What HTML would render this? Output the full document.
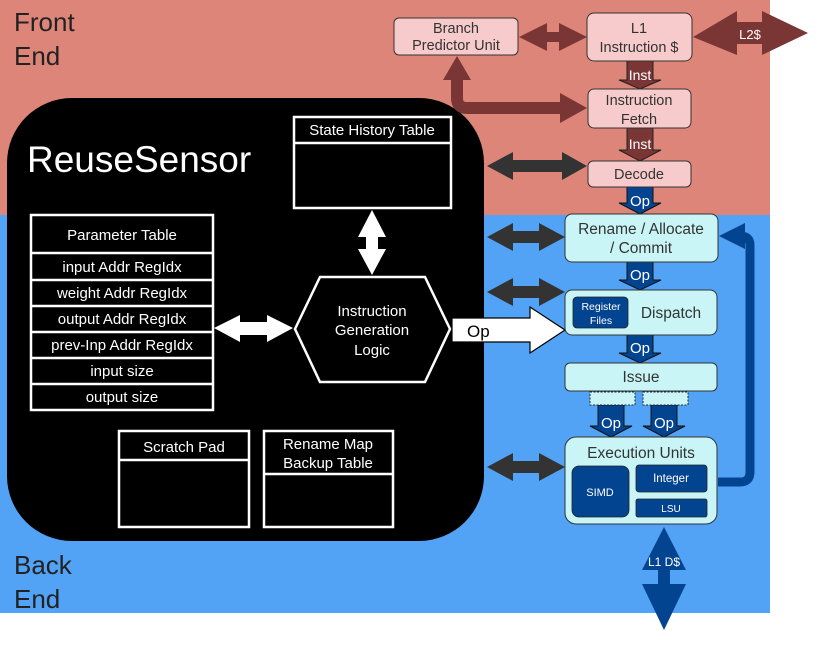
<!DOCTYPE html>
<html><head><meta charset="utf-8"><style>
html,body{margin:0;padding:0;background:#fff;}
svg{display:block;font-family:"Liberation Sans",sans-serif;}
</style></head><body>
<svg width="830" height="655" viewBox="0 0 830 655" xmlns="http://www.w3.org/2000/svg">
<rect x="0" y="0" width="770" height="215" fill="#de857a"/>
<rect x="0" y="215" width="770" height="398" fill="#52a3f5"/>
<text x="14" y="31" font-size="26" fill="#222">Front</text>
<text x="14" y="65" font-size="26" fill="#222">End</text>
<text x="14" y="574" font-size="26" fill="#222">Back</text>
<text x="14" y="608" font-size="26" fill="#222">End</text>

<rect x="7" y="98" width="477" height="443" rx="65" fill="#000"/>
<text x="27" y="172" font-size="37" fill="#fff">ReuseSensor</text>

<g fill="none" stroke="#fff" stroke-width="2.5">
<rect x="294" y="117" width="157" height="91"/><line x1="294" y1="143" x2="451" y2="143"/>
<rect x="31" y="215" width="182" height="195"/>
<line x1="31" y1="253" x2="213" y2="253"/><line x1="31" y1="280" x2="213" y2="280"/>
<line x1="31" y1="306" x2="213" y2="306"/><line x1="31" y1="332" x2="213" y2="332"/>
<line x1="31" y1="358" x2="213" y2="358"/><line x1="31" y1="384" x2="213" y2="384"/>
<polygon points="295,329 320,277 425,277 450,329 425,382 320,382"/>
<rect x="119" y="431" width="130" height="96"/><line x1="119" y1="460" x2="249" y2="460"/>
<rect x="264" y="431" width="129" height="96"/><line x1="264" y1="474" x2="393" y2="474"/>
</g>
<g fill="#fff" font-size="15" text-anchor="middle">
<text x="372" y="135">State History Table</text>
<text x="122" y="240">Parameter Table</text>
<text x="122" y="272">input Addr RegIdx</text>
<text x="122" y="298">weight Addr RegIdx</text>
<text x="122" y="324">output Addr RegIdx</text>
<text x="122" y="350">prev-Inp Addr RegIdx</text>
<text x="122" y="376">input size</text>
<text x="122" y="402">output size</text>
<text x="372" y="316">Instruction</text>
<text x="372" y="335">Generation</text>
<text x="372" y="355">Logic</text>
<text x="184" y="452">Scratch Pad</text>
<text x="328" y="449">Rename Map</text>
<text x="328" y="468">Backup Table</text>
</g>
<polygon fill="#fff" points="372,210 386,237 378,237 378,249 386,249 372,275 358,249 366,249 366,237 358,237"/>
<polygon fill="#fff" points="214,328 240,315 240,322 267,322 267,315 293,328 267,342 267,335 240,335 240,342"/>
<polygon fill="#fff" stroke="#000" stroke-width="1.2" points="452,318 530,318 530,307 565,330 530,353 530,342 452,342"/>
<text x="467" y="337" font-size="17" fill="#000">Op</text>

<g fill="#333">
<polygon points="487,166 513,152 513,160 562,160 562,152 587,166 562,180 562,172 513,172 513,180"/>
<polygon points="487,237 513,223 513,231 539,231 539,223 565,237 539,251 539,243 513,243 513,251"/>
<polygon points="487,292 513,278 513,286 539,286 539,278 565,292 539,306 539,298 513,298 513,306"/>
<polygon points="487,467 513,453 513,461 539,461 539,453 565,467 539,481 539,473 513,473 513,481"/>
</g>

<g fill="#7a3535">
<polygon points="519,37 547,23 547,32 559,32 559,23 587,37 559,51 559,42 547,42 547,51"/>
<polygon points="693,37 737,11 737,22 762,22 762,11 808,33 762,55 762,44 737,44 737,55"/>
<polygon points="443,80 457,56 471,80"/>
<path d="M457,78 V98 Q457,108 467,108 H562" stroke="#7a3535" stroke-width="12" fill="none"/>
<polygon points="560,93 587,108 560,123"/>
<polygon stroke="#222" stroke-width="1" points="627,61 653,61 653,80 661,80 640,89 619,80 627,80"/>
<polygon stroke="#222" stroke-width="1" points="627,128 653,128 653,150 661,150 640,161 619,150 627,150"/>
</g>
<text x="750" y="39" font-size="13" fill="#fff" text-anchor="middle">L2$</text>
<g fill="#fff" font-size="14" text-anchor="middle">
<text x="640" y="80">Inst</text><text x="640" y="149">Inst</text>
</g>

<g fill="#034491" stroke="#111" stroke-width="1">
<polygon points="627,187 653,187 653,203 661,203 640,214 619,203 627,203"/>
<polygon points="627,262 653,262 653,280 661,280 640,290 619,280 627,280"/>
<polygon points="627,335 653,335 653,353 661,353 640,363 619,353 627,353"/>
<polygon points="598,405 624,405 624,426 632,426 611,437 590,426 598,426"/>
<polygon points="651,405 677,405 677,426 685,426 664,437 643,426 651,426"/>
</g>
<g fill="#fff" font-size="15" text-anchor="middle">
<text x="640" y="206">Op</text><text x="640" y="280">Op</text><text x="640" y="353">Op</text>
<text x="611" y="428">Op</text><text x="664" y="428">Op</text>
</g>
<path d="M718,482 H740 Q750,482 750,472 V245 Q750,236 740,236 H745" stroke="#034491" stroke-width="9" fill="none"/>
<polygon fill="#034491" points="719,236 745,223 745,249"/>
<polygon fill="#034491" points="664,527 686,570 670,570 670,584 686,584 664,630 642,584 658,584 658,570 642,570"/>
<text x="664" y="566" font-size="12" fill="#fff" text-anchor="middle">L1 D$</text>

<g fill="#f7cbcb" stroke="#333" stroke-width="1">
<rect x="394" y="18" width="124" height="37" rx="5"/>
<rect x="587" y="13" width="105" height="48" rx="7"/>
<rect x="588" y="89" width="103" height="39" rx="6"/>
<rect x="588" y="161" width="103" height="26" rx="5"/>
</g>
<g fill="#333" font-size="14.5" text-anchor="middle">
<text x="456" y="33">Branch</text><text x="456" y="50">Predictor Unit</text>
<text x="639" y="33">L1</text><text x="639" y="52">Instruction $</text>
<text x="639" y="105">Instruction</text><text x="639" y="124">Fetch</text>
<text x="639" y="179">Decode</text>
</g>

<g fill="#c9f5f7" stroke="#333" stroke-width="1">
<rect x="565" y="214" width="153" height="48" rx="7"/>
<rect x="565" y="290" width="152" height="45" rx="7"/>
<rect x="565" y="363" width="152" height="28" rx="5"/>
<rect x="565" y="437" width="152" height="87" rx="11"/>
<rect x="590" y="392" width="45" height="13" stroke-dasharray="2,1.5" stroke="#222"/>
<rect x="643" y="392" width="45" height="13" stroke-dasharray="2,1.5" stroke="#222"/>
</g>
<g fill="#034491" stroke="#222" stroke-width="0.8">
<rect x="573" y="297" width="55" height="31" rx="4"/>
<rect x="572" y="466" width="57" height="51" rx="7"/>
<rect x="636" y="465" width="71" height="27" rx="3"/>
<rect x="636" y="499" width="71" height="18" rx="2"/>
</g>
<g fill="#333" font-size="15.5" text-anchor="middle">
<text x="641" y="234">Rename / Allocate</text><text x="641" y="253">/ Commit</text>
<text x="671" y="318">Dispatch</text>
<text x="641" y="382">Issue</text>
<text x="641" y="458">Execution Units</text>
</g>
<g fill="#fff" text-anchor="middle">
<text x="601" y="310" font-size="10.5">Register</text><text x="601" y="324" font-size="10.5">Files</text>
<text x="600" y="496" font-size="11">SIMD</text>
<text x="671" y="482" font-size="11.5">Integer</text>
<text x="671" y="512" font-size="10">LSU</text>
</g>
</svg>
</body></html>
